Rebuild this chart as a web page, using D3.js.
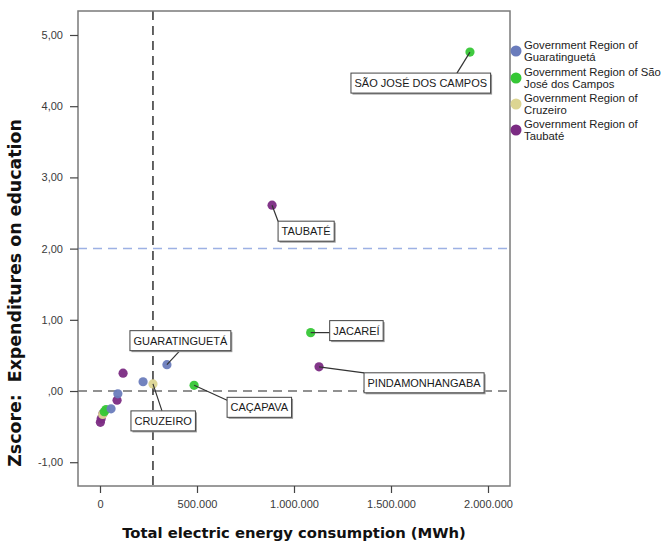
<!DOCTYPE html>
<html>
<head>
<meta charset="utf-8">
<script src="https://cdn.jsdelivr.net/npm/d3@7"></script>
<style>
  body { margin: 0; background: #fff; }
  svg { display: block; }
</style>
</head>
<body>
<svg id="chart" width="667" height="546"></svg>
<script>
// Government regions (legend order) and their marker colours
const regions = [
  "Government Region of Guaratinguetá",
  "Government Region of São José dos Campos",
  "Government Region of Cruzeiro",
  "Government Region of Taubaté"
];
const regionLegendLines = [
  ["Government Region of", "Guaratinguetá"],
  ["Government Region of São", "José dos Campos"],
  ["Government Region of", "Cruzeiro"],
  ["Government Region of", "Taubaté"]
];
const regionColors = ["#6A7CBC", "#36C736", "#DCD592", "#7B2B83"];

// Municipalities: name (empty = unlabelled), region index, energy use and z-score
const municipalities = [
  "SÃO JOSÉ DOS CAMPOS", "TAUBATÉ", "JACAREÍ", "PINDAMONHANGABA",
  "GUARATINGUETÁ", "CRUZEIRO", "CAÇAPAVA",
  "", "", "", "", "", "", "", "", "", "", ""
];
const municipalityRegion = [1, 3, 1, 3, 0, 2, 1, 3, 0, 0, 3, 0, 1, 1, 2, 3, 3, 3];
const energyMWh = [
  1907000, 887000, 1086000, 1129000, 345000, 273000, 485000,
  119000, 222000, 92000, 88000, 57000, 31000, 22000, 14000, 15000, 6000, 2000
];
const zscoreEducation = [
  4.76, 2.61, 0.82, 0.34, 0.37, 0.10, 0.08,
  0.25, 0.13, -0.04, -0.13, -0.25, -0.26, -0.29, -0.33, -0.32, -0.39, -0.44
];

// Reference lines
const energyReference = 273000;
const zscoreReferences = [0, 2];

// Axis ticks
const xTickValues = [0, 500000, 1000000, 1500000, 2000000];
const xTickLabels = ["0", "500.000", "1.000.000", "1.500.000", "2.000.000"];
const yTickValues = [-1, 0, 1, 2, 3, 4, 5];
const yTickLabels = ["-1,00", ",00", "1,00", "2,00", "3,00", "4,00", "5,00"];

// Placement of the name boxes relative to their point (box corner and leader attach point)
const labelPlacement = {
  "SÃO JOSÉ DOS CAMPOS": { dx: -119, dy: 21, ax: 106, ay: 0 },
  "TAUBATÉ":             { dx: 6,    dy: 16, ax: 0,   ay: 0 },
  "JACAREÍ":             { dx: 19,   dy: -12, ax: 0,  ay: 12 },
  "PINDAMONHANGABA":     { dx: 45,   dy: 6,  ax: 0,   ay: 0 },
  "GUARATINGUETÁ":       { dx: -37,  dy: -34, ax: 50, ay: 20 },
  "CRUZEIRO":            { dx: -22,  dy: 27, ax: 31,  ay: 0 },
  "CAÇAPAVA":            { dx: 33,   dy: 12, ax: 0,   ay: 3 }
};

const svg = d3.select("#chart");
const W = 667, H = 546;
const plot = { left: 78, right: 510, top: 11, bottom: 486 };

const x = d3.scaleLinear().domain([-113400, 2113400]).range([plot.left, plot.right]);
const y = d3.scaleLinear().domain([-1.334, 5.337]).range([plot.bottom, plot.top]);

svg.append("rect").attr("width", W).attr("height", H).attr("fill", "#fff");

// Reference lines
const refs = svg.append("g");
refs.append("line")
  .attr("x1", plot.left).attr("x2", plot.right)
  .attr("y1", y(zscoreReferences[1])).attr("y2", y(zscoreReferences[1]))
  .attr("stroke", "#9DB1E4").attr("stroke-width", 1.5).attr("stroke-dasharray", "9,6");
refs.append("line")
  .attr("x1", plot.left).attr("x2", plot.right)
  .attr("y1", y(zscoreReferences[0])).attr("y2", y(zscoreReferences[0]))
  .attr("stroke", "#6E6E6E").attr("stroke-width", 1.4).attr("stroke-dasharray", "9,6");
refs.append("line")
  .attr("x1", x(energyReference)).attr("x2", x(energyReference))
  .attr("y1", plot.top).attr("y2", plot.bottom)
  .attr("stroke", "#222").attr("stroke-width", 1.4).attr("stroke-dasharray", "9,6");

// Frame
svg.append("rect")
  .attr("x", plot.left).attr("y", plot.top)
  .attr("width", plot.right - plot.left).attr("height", plot.bottom - plot.top)
  .attr("fill", "none").attr("stroke", "#7a7a7a").attr("stroke-width", 1.5);

// Axes
const xAxis = d3.axisBottom(x).tickValues(xTickValues)
  .tickFormat((d, i) => xTickLabels[i]).tickSize(7).tickPadding(7);
const yAxis = d3.axisLeft(y).tickValues(yTickValues)
  .tickFormat((d, i) => yTickLabels[i]).tickSize(8).tickPadding(7);

const gx = svg.append("g").attr("transform", `translate(0,${plot.bottom})`).call(xAxis);
const gy = svg.append("g").attr("transform", `translate(${plot.left},0)`).call(yAxis);
[gx, gy].forEach(g => {
  g.select(".domain").remove();
  g.selectAll(".tick line").attr("stroke", "#444").attr("stroke-width", 1.2);
  g.selectAll(".tick text")
    .attr("font-family", "'Liberation Sans', Arial, sans-serif")
    .attr("font-size", 11).attr("fill", "#3a3a3a");
});

// Axis titles
const titleFont = "'DejaVu Sans', Verdana, sans-serif";
const xTitle = svg.append("text")
  .attr("x", (plot.left + plot.right) / 2).attr("y", 538)
  .attr("text-anchor", "middle")
  .attr("font-family", titleFont).attr("font-weight", "bold").attr("font-size", 14)
  .attr("fill", "#111")
  .text("Total electric energy consumption (MWh)");
xTitle.attr("font-size", 14 * 344 / xTitle.node().getComputedTextLength());

const yTitle = svg.append("text")
  .attr("transform", `translate(21,293) rotate(-90)`)
  .attr("text-anchor", "middle")
  .attr("font-family", titleFont).attr("font-weight", "bold").attr("font-size", 14)
  .attr("fill", "#111")
  .style("white-space", "pre")
  .text("Zscore:  Expenditures on education");
yTitle.attr("font-size", 14 * 348 / yTitle.node().getComputedTextLength());

// Points
const data = municipalities.map((name, i) => ({
  name, region: municipalityRegion[i], energy: energyMWh[i], z: zscoreEducation[i]
}));

// Draw from the back so labelled points sit on top
const drawOrder = data.slice().reverse();
svg.append("g").selectAll("circle").data(drawOrder).join("circle")
  .attr("cx", d => x(d.energy)).attr("cy", d => y(d.z))
  .attr("r", 4.6)
  .attr("fill", d => regionColors[d.region])
  .attr("fill-opacity", 0.95);

// Name boxes with leader lines
const labelFont = "'Liberation Sans', Arial, sans-serif";
const labels = svg.append("g");
data.filter(d => d.name).forEach(d => {
  const p = labelPlacement[d.name];
  const px = x(d.energy), py = y(d.z);
  const t = labels.append("text")
    .attr("font-family", labelFont).attr("font-size", 11).attr("fill", "#1a1a1a")
    .text(d.name);
  const tw = t.node().getComputedTextLength();
  const bw = tw + 7, bh = 20;
  const bx = px + p.dx, by = py + p.dy;
  labels.insert("line", "text")
    .attr("x1", px).attr("y1", py)
    .attr("x2", bx + p.ax).attr("y2", by + p.ay)
    .attr("stroke", "#333").attr("stroke-width", 1.2);
  labels.insert("rect", "text")
    .attr("x", bx + 1.5).attr("y", by + 1.5).attr("width", bw).attr("height", bh)
    .attr("fill", "#9a9a9a");
  labels.insert("rect", "text")
    .attr("x", bx).attr("y", by).attr("width", bw).attr("height", bh)
    .attr("fill", "#fff").attr("stroke", "#444").attr("stroke-width", 1);
  t.attr("x", bx + bw / 2).attr("y", by + bh / 2 + 4).attr("text-anchor", "middle");
  t.raise();
});

// Legend
const legendY = [51, 78, 104, 130];
const legend = svg.append("g");
regions.forEach((r, i) => {
  legend.append("circle")
    .attr("cx", 516).attr("cy", legendY[i]).attr("r", 5.5)
    .attr("fill", regionColors[i]);
  regionLegendLines[i].forEach((line, j) => {
    legend.append("text")
      .attr("x", 524).attr("y", legendY[i] - 6 + j * 12)
      .attr("dy", "0.35em")
      .attr("font-family", labelFont).attr("font-size", 11.3).attr("fill", "#222")
      .text(line);
  });
});
</script>
</body>
</html>
